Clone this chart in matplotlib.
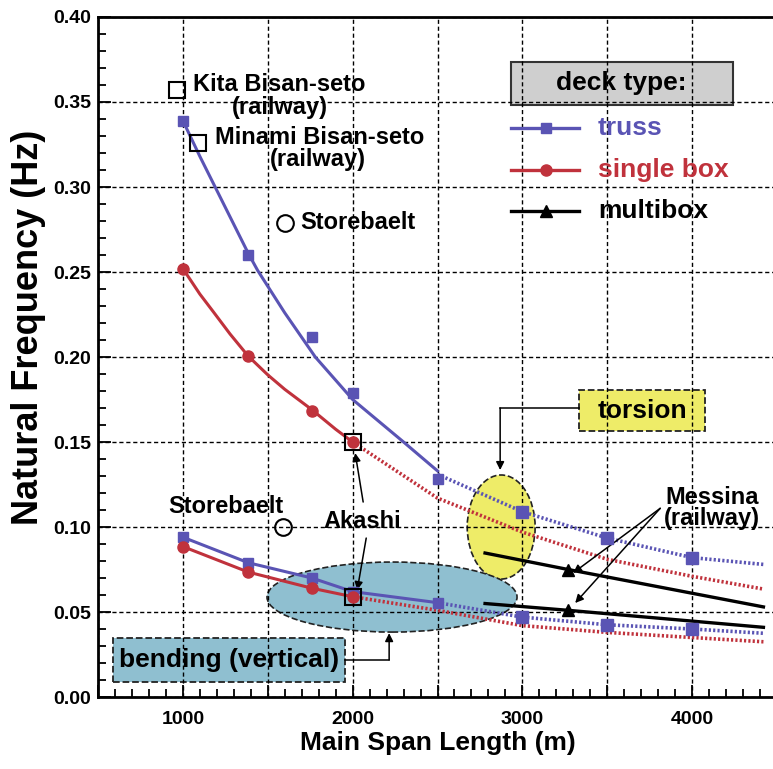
import matplotlib
matplotlib.use("Agg")
import matplotlib.pyplot as plt
from matplotlib.patches import Ellipse, Rectangle
from matplotlib.ticker import MultipleLocator, FuncFormatter
from matplotlib.lines import Line2D

plt.rcParams['font.family'] = ['Liberation Sans', 'DejaVu Sans']
plt.rcParams['font.weight'] = 'bold'

# --- torsion, truss deck (blue) ---
truss_tor_x = [1000, 1385, 1760, 2000, 2500]
truss_tor_y = [0.339, 0.260, 0.212, 0.179, 0.128]
truss_tor_curve_x = [1000, 1100, 1200, 1300, 1385, 1440, 1600, 1780, 2000, 2300, 2500]
truss_tor_curve_y = [0.339, 0.318, 0.298, 0.278, 0.261, 0.251, 0.226, 0.200, 0.175, 0.150, 0.133]
truss_tor_ext_x = [2500, 3000, 3500, 4000, 4420]
truss_tor_ext_y = [0.131, 0.109, 0.0935, 0.082, 0.078]

# --- torsion, single box deck (red) ---
box_tor_x = [1000, 1385, 1760, 2000]
box_tor_y = [0.252, 0.2005, 0.168, 0.150]
box_tor_curve_x = [1000, 1100, 1180, 1278, 1385, 1500, 1600, 1760, 1900, 2000]
box_tor_curve_y = [0.252, 0.237, 0.2265, 0.2135, 0.2005, 0.1895, 0.181, 0.169, 0.1575, 0.150]
box_tor_ext_x = [2000, 2500, 3000, 3500, 4000, 4420]
box_tor_ext_y = [0.150, 0.117, 0.097, 0.081, 0.071, 0.0635]

# --- bending, truss deck ---
truss_bend_x = [1000, 1385, 1760, 2000, 2500]
truss_bend_y = [0.094, 0.079, 0.070, 0.062, 0.0555]
truss_bend_ext_x = [2500, 3000, 3500, 4000, 4420]
truss_bend_ext_y = [0.0555, 0.047, 0.0425, 0.040, 0.0375]

# --- bending, single box deck ---
box_bend_x = [1000, 1385, 1760, 2000]
box_bend_y = [0.0885, 0.0735, 0.064, 0.059]
box_bend_ext_x = [2000, 2500, 3000, 3500, 4000, 4420]
box_bend_ext_y = [0.059, 0.051, 0.042, 0.038, 0.035, 0.0325]

# --- multibox (Messina) ---
multi_x = [2780, 3270, 4420]
multi_tor_y = [0.0847, 0.075, 0.053]
multi_bend_y = [0.055, 0.051, 0.041]

# --- existing bridges ---
kita = (965, 0.357)
minami = (1089, 0.326)
store_tor = (1600, 0.279)
store_bend = (1590, 0.100)
akashi_x = [2000, 2000]
akashi_y = [0.150, 0.059]

BLUE = '#5a54b4'
RED = '#c0323c'
DOTS = (0, (0.6, 0.6))

fig = plt.figure(figsize=(7.73, 7.69), dpi=100)
ax = fig.add_axes([0.1268, 0.0936, 0.8784, 0.8843])
ax.set_xlim(500, 4500)
ax.set_ylim(0, 0.40)

# shaded regions
ax.add_patch(Ellipse((2875, 0.100), 400, 0.0612, facecolor='#eeec68',
                     edgecolor='#222222', ls='--', lw=1.2, zorder=0.3))
ax.add_patch(Ellipse((2232, 0.0588), 1473, 0.0412, facecolor='#8fbfd0',
                     edgecolor='#222222', ls='--', lw=1.2, zorder=0.3))

# curves
ax.plot(truss_tor_curve_x, truss_tor_curve_y, color=BLUE, lw=2.2, zorder=3)
ax.plot(truss_tor_x, truss_tor_y, 's', color=BLUE, ms=7, zorder=4)
ax.plot(truss_tor_ext_x, truss_tor_ext_y, color=BLUE, lw=2.6, ls=DOTS, zorder=3)
ax.plot(truss_tor_ext_x[1:-1], truss_tor_ext_y[1:-1], 's', color=BLUE, ms=8, zorder=4)

ax.plot(box_tor_curve_x, box_tor_curve_y, color=RED, lw=2.2, zorder=3)
ax.plot(box_tor_x, box_tor_y, 'o', color=RED, ms=8, zorder=4)
ax.plot(box_tor_ext_x, box_tor_ext_y, color=RED, lw=2.6, ls=DOTS, zorder=3)

ax.plot(truss_bend_x, truss_bend_y, color=BLUE, lw=2.2, zorder=3)
ax.plot(truss_bend_x, truss_bend_y, 's', color=BLUE, ms=7, zorder=4)
ax.plot(truss_bend_ext_x, truss_bend_ext_y, color=BLUE, lw=2.6, ls=DOTS, zorder=3)
ax.plot(truss_bend_ext_x[1:-1], truss_bend_ext_y[1:-1], 's', color=BLUE, ms=8, zorder=4)

ax.plot(box_bend_x, box_bend_y, color=RED, lw=2.2, zorder=3)
ax.plot(box_bend_x, box_bend_y, 'o', color=RED, ms=8, zorder=4)
ax.plot(box_bend_ext_x, box_bend_ext_y, color=RED, lw=2.6, ls=DOTS, zorder=3)

ax.plot(multi_x, multi_tor_y, color='k', lw=2.4, zorder=3)
ax.plot(multi_x, multi_bend_y, color='k', lw=2.4, zorder=3)
ax.plot([multi_x[1]] * 2, [multi_tor_y[1], multi_bend_y[1]], '^', color='k', ms=8, zorder=4)

# existing bridges
sq = dict(marker='s', ms=12, mfc='none', mec='k', mew=1.5, ls='none', zorder=5)
ax.plot(*kita, **sq)
ax.plot(*minami, **sq)
ax.plot(akashi_x, akashi_y, **sq)
circ = dict(marker='o', ms=12, mfc='none', mec='k', mew=1.5, ls='none', zorder=5)
ax.plot(*store_tor, **circ)
ax.plot(*store_bend, **circ)

fs = 17
ax.text(1060, 0.360, 'Kita Bisan-seto', fontsize=fs, va='center', ha='left')
ax.text(1573, 0.3465, '(railway)', fontsize=fs, va='center', ha='center')
ax.text(1187, 0.329, 'Minami Bisan-seto', fontsize=fs, va='center', ha='left')
ax.text(1796, 0.316, '(railway)', fontsize=fs, va='center', ha='center')
ax.text(1690, 0.279, 'Storebaelt', fontsize=fs, va='center', ha='left')
ax.text(1254, 0.112, 'Storebaelt', fontsize=fs, va='center', ha='center')
ax.text(2056, 0.103, 'Akashi', fontsize=fs, va='center', ha='center')
ax.text(4118, 0.1176, 'Messina', fontsize=fs, va='center', ha='center')
ax.text(4118, 0.105, '(railway)', fontsize=fs, va='center', ha='center')

arr = dict(arrowstyle='-|>', color='k', lw=1.1, mutation_scale=12, shrinkA=0, shrinkB=0)
ax.annotate('', xy=(2015, 0.1435), xytext=(2062, 0.1147), arrowprops=arr)
ax.annotate('', xy=(2027, 0.0629), xytext=(2080, 0.0935), arrowprops=arr)
ax.annotate('', xy=(3299, 0.073), xytext=(3812, 0.111), arrowprops=arr)
ax.annotate('', xy=(3311, 0.0553), xytext=(3812, 0.111), arrowprops=arr)

# torsion label box
ax.add_patch(Rectangle((3334, 0.1565), 743, 0.0241, facecolor='#eeec68',
                       edgecolor='#222222', ls='--', lw=1.3, zorder=0.3))
ax.text(3705, 0.1685, 'torsion', fontsize=19, ha='center', va='center', zorder=5)
ax.plot([3334, 2869], [0.170, 0.170], color='k', lw=1.1, zorder=5)
ax.annotate('', xy=(2869, 0.1335), xytext=(2869, 0.170), arrowprops=arr)

# bending label box
ax.add_patch(Rectangle((588, 0.0088), 1367, 0.0259, facecolor='#8fbfd0',
                       edgecolor='#222222', ls='--', lw=1.3, zorder=0.3))
ax.text(1271, 0.0215, 'bending (vertical)', fontsize=19, ha='center', va='center', zorder=5)
ax.plot([1955, 2215], [0.0218, 0.0218], color='k', lw=1.1, zorder=5)
ax.annotate('', xy=(2215, 0.0376), xytext=(2215, 0.0218), arrowprops=arr)

# legend (drawn by hand)
ax.add_patch(Rectangle((0.608, 0.871), 0.327, 0.063, transform=ax.transAxes,
                       facecolor='#cfcfcf', edgecolor='#333333', lw=1.5, zorder=0.3))
ax.text(0.771, 0.903, 'deck type:', transform=ax.transAxes, fontsize=19,
        ha='center', va='center', zorder=5)
legend_rows = [(BLUE, 's', 'truss', 0.837, 7),
               (RED, 'o', 'single box', 0.775, 8),
               ('k', '^', 'multibox', 0.715, 8)]
for col, mk, lab, yy, ms in legend_rows:
    ax.add_line(Line2D([0.608, 0.709], [yy, yy], transform=ax.transAxes,
                       color=col, lw=2.4, zorder=5))
    ax.add_line(Line2D([0.66], [yy], transform=ax.transAxes, marker=mk,
                       color=col, ms=ms, zorder=5))
    ax.text(0.736, yy, lab, transform=ax.transAxes, fontsize=19, color=col,
            ha='left', va='center', zorder=5)

# axes styling
ax.xaxis.set_major_locator(MultipleLocator(500))
ax.xaxis.set_minor_locator(MultipleLocator(100))
ax.xaxis.set_major_formatter(FuncFormatter(lambda v, p: f'{int(v)}' if v % 1000 == 0 and v > 500 else ''))
ax.yaxis.set_major_locator(MultipleLocator(0.05))
ax.yaxis.set_minor_locator(MultipleLocator(0.01))
ax.yaxis.set_major_formatter(FuncFormatter(lambda v, p: f'{v:.2f}'))
ax.tick_params(which='both', direction='in', top=False, right=False, width=1.3)
ax.tick_params(which='major', length=9)
ax.tick_params(which='minor', length=6)
ax.tick_params(axis='x', labelsize=14, pad=10)
ax.tick_params(axis='y', labelsize=14, pad=5)
for lab in ax.get_xticklabels() + ax.get_yticklabels():
    lab.set_fontweight('bold')

ax.grid(True, which='major', color='k', ls=(0, (3, 2)), lw=1.0, zorder=0.5)
ax.set_axisbelow(True)
ax.spines['right'].set_visible(False)
for s in ['left', 'bottom', 'top']:
    ax.spines[s].set_linewidth(2)

ax.set_xlabel('Main Span Length (m)', fontsize=19, fontweight='bold', labelpad=2)
ax.set_ylabel('Natural Frequency (Hz)', fontsize=26, fontweight='bold')
ax.yaxis.set_label_coords(-0.077, 0.544)

fig.savefig('out.png', dpi=100)
